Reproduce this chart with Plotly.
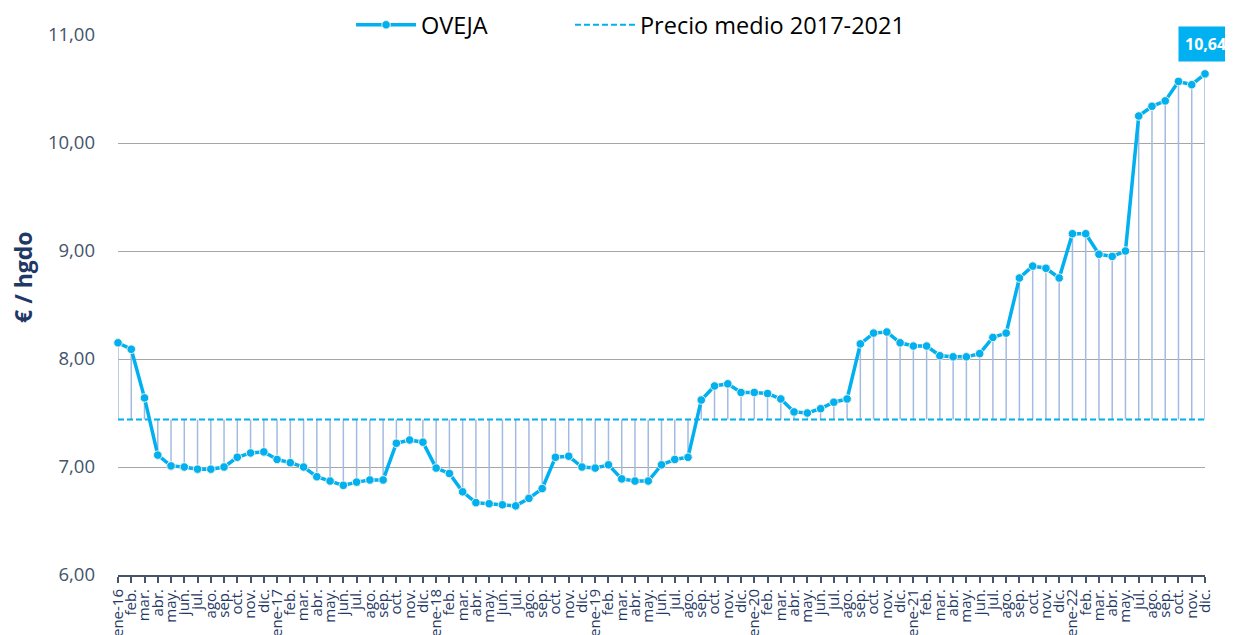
import plotly.graph_objects as go

# ---- data ----
etiquetas = [
    "ene-16", "feb.", "mar.", "abr.", "may.", "jun.", "jul.", "ago.", "sep.", "oct.", "nov.", "dic.",
    "ene-17", "feb.", "mar.", "abr.", "may.", "jun.", "jul.", "ago.", "sep.", "oct.", "nov.", "dic.",
    "ene-18", "feb.", "mar.", "abr.", "may.", "jun.", "jul.", "ago.", "sep.", "oct.", "nov.", "dic.",
    "ene-19", "feb.", "mar.", "abr.", "may.", "jun.", "jul.", "ago.", "sep.", "oct.", "nov.", "dic.",
    "ene-20", "feb.", "mar.", "abr.", "may.", "jun.", "jul.", "ago.", "sep.", "oct.", "nov.", "dic.",
    "ene-21", "feb.", "mar.", "abr.", "may.", "jun.", "jul.", "ago.", "sep.", "oct.", "nov.", "dic.",
    "ene-22", "feb.", "mar.", "abr.", "may.", "jul.", "ago.", "sep.", "oct.", "nov.", "dic.",
]

oveja_2016 = [8.15, 8.09, 7.64, 7.11, 7.01, 7.00, 6.98, 6.98, 7.00, 7.09, 7.13, 7.14]
oveja_2017 = [7.07, 7.04, 7.00, 6.91, 6.87, 6.83, 6.86, 6.88, 6.88, 7.22, 7.25, 7.23]
oveja_2018 = [6.99, 6.94, 6.77, 6.67, 6.66, 6.65, 6.64, 6.71, 6.80, 7.09, 7.10, 7.00]
oveja_2019 = [6.99, 7.02, 6.89, 6.87, 6.87, 7.02, 7.07, 7.09, 7.62, 7.75, 7.77, 7.69]
oveja_2020 = [7.69, 7.68, 7.63, 7.51, 7.50, 7.54, 7.60, 7.63, 8.14, 8.24, 8.25, 8.15]
oveja_2021 = [8.12, 8.12, 8.03, 8.02, 8.02, 8.05, 8.20, 8.24, 8.75, 8.86, 8.84, 8.75]
oveja_2022 = [9.16, 9.16, 8.97, 8.95, 9.00, 10.25, 10.34, 10.39, 10.57, 10.54, 10.64]

precio_medio = 7.44

y_ticks = [6, 7, 8, 9, 10, 11]
y_tick_text = ["6,00", "7,00", "8,00", "9,00", "10,00", "11,00"]

# ---- build ----
oveja = oveja_2016 + oveja_2017 + oveja_2018 + oveja_2019 + oveja_2020 + oveja_2021 + oveja_2022
x = list(range(len(oveja)))

CYAN = "#00b0f0"
NAVY = "#1f3864"
SLATE = "#44546a"

drop_x, drop_y = [], []
for i, v in zip(x, oveja):
    drop_x += [i, i, None]
    drop_y += [v, precio_medio, None]

fig = go.Figure()

fig.add_trace(go.Scatter(
    x=drop_x, y=drop_y, mode="lines",
    line=dict(color="#a3bbe0", width=1.5),
    showlegend=False, hoverinfo="skip",
))

fig.add_trace(go.Scatter(
    x=[x[0], x[-1]], y=[precio_medio, precio_medio], mode="lines",
    name="Precio medio 2017-2021", legend="legend2",
    line=dict(color=CYAN, width=2, dash="6px,3px"),
))

fig.add_trace(go.Scatter(
    x=x, y=oveja, mode="lines+markers", name="OVEJA", legend="legend",
    line=dict(color=CYAN, width=3.5),
    marker=dict(size=8.5, color=CYAN, line=dict(color="#eef2e6", width=1)),
    cliponaxis=False,
))

fig.add_annotation(
    x=x[-1], y=oveja[-1], text="<b>" + f"{oveja[-1]:.2f}".replace(".", ",") + "</b>",
    showarrow=False, yshift=30, xanchor="center", yanchor="middle",
    bgcolor=CYAN, borderpad=6,
    font=dict(family="Open Sans", size=16, color="white"),
)

# y-axis title
fig.add_annotation(
    xref="paper", yref="paper", x=0, y=0.552, xshift=-95,
    xanchor="center", yanchor="middle", textangle=-90, showarrow=False,
    text="<b>€ / hgdo</b>", font=dict(family="Open Sans", size=23, color=NAVY),
)

legend_common = dict(
    orientation="h", y=1.0185, yanchor="middle", xanchor="left",
    font=dict(family="Open Sans", size=23.5, color="black"),
    bgcolor="rgba(0,0,0,0)", itemwidth=60,
)

fig.update_layout(
    width=1225, height=627,
    margin=dict(l=110, r=28, t=27, b=60, autoexpand=False),
    paper_bgcolor="white", plot_bgcolor="white",
    font=dict(family="Open Sans", color=SLATE),
    showlegend=True,
    legend=dict(x=0.2144, **legend_common),
    legend2=dict(x=0.4158, **legend_common),
    xaxis=dict(
        range=[x[0], x[-1]], automargin=False,
        tickmode="array", tickvals=x, ticktext=etiquetas,
        tickangle=-90, tickfont=dict(family="Open Sans", size=15, color=NAVY),
        showgrid=False, zeroline=False,
        showline=True, linecolor=SLATE, linewidth=2,
        ticks="outside", ticklen=6, tickcolor=SLATE, tickwidth=1.5,
    ),
    yaxis=dict(
        range=[6, 11], automargin=False,
        tickmode="array", tickvals=y_ticks, ticktext=y_tick_text,
        tickfont=dict(family="Open Sans", size=18.5, color=SLATE),
        showgrid=True, gridcolor="#a6a6a6", gridwidth=1.3,
        zeroline=False, showline=False, ticks="", ticklabelstandoff=22,
    ),
)

fig.write_html("out.html")
